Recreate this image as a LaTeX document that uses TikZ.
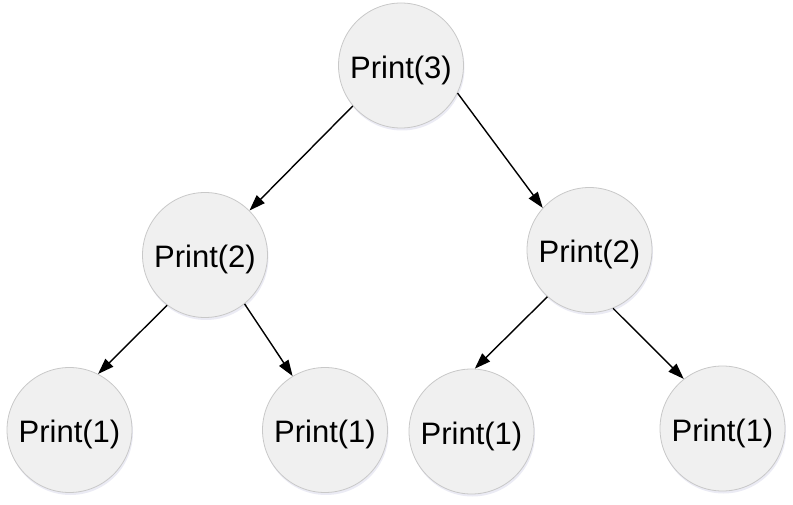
\documentclass[tikz,border=0pt]{standalone}
\usepackage{fontspec}
\setmainfont{Liberation Sans}
\usepackage{tikz}
\usetikzlibrary{arrows.meta,shadows}
\definecolor{callfill}{RGB}{240,240,240}
\definecolor{callline}{RGB}{200,200,200}

\begin{document}
\begin{tikzpicture}[
    x=1pt, y=-1pt,
    call/.style={circle, draw=callline, line width=0.8pt, fill=callfill, minimum size=125pt, inner sep=0pt,
      font=\fontsize{31}{36}\selectfont, text height=32pt, text depth=6.5pt,
      drop shadow={opacity=0.12, shadow xshift=1pt, shadow yshift=-2.5pt, fill=blue!30!gray}},
    relation/.style={-{Triangle[length=16pt,width=11pt]}, line width=1.4pt, black}
]
\useasboundingbox (0,0) rectangle (793,505);
\node[call] (p3) at (401,65.5) {Print(3)};
\node[call] (p2a) at (205,255) {Print(2)};
\node[call] (p2b) at (589.5,250) {Print(2)};
\node[call] (p1a) at (69.5,430) {Print(1)};
\node[call] (p1b) at (325,430) {Print(1)};
\node[call] (p1c) at (471.5,431.5) {Print(1)};
\node[call] (p1d) at (722.5,428.5) {Print(1)};

\draw[relation] (p3.220) -- (p2a.45);
\draw[relation] (p3.-26) -- (p2b.138);
\draw[relation] (p2a.233) -- (p1a.63);
\draw[relation] (p2a.-51) -- (p1b.121);
\draw[relation] (p2b.228) -- (p1c.87);
\draw[relation] (p2b.-68) -- (p1d.128);
\end{tikzpicture}
\end{document}
